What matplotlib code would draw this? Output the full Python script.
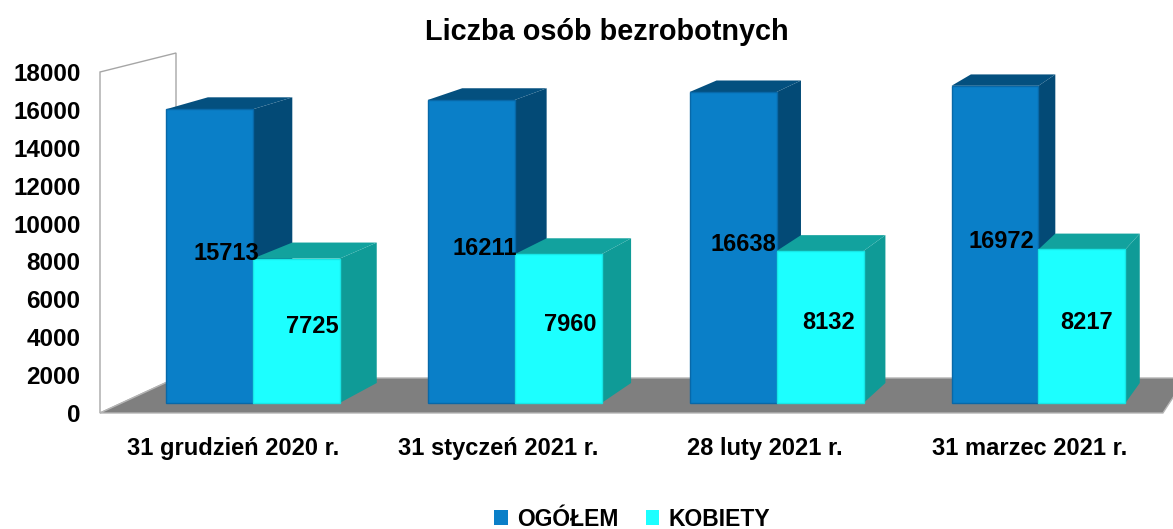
import matplotlib
matplotlib.use('Agg')
import matplotlib.pyplot as plt
from matplotlib.patches import Polygon, Patch

plt.rcParams['font.family'] = ['Liberation Sans', 'DejaVu Sans']
plt.rcParams['font.weight'] = 'bold'

# dane
categories = ['31 grudzień 2020 r.', '31 styczeń 2021 r.', '28 luty 2021 r.', '31 marzec 2021 r.']
ogolem = [15713, 16211, 16638, 16972]
kobiety = [7725, 7960, 8132, 8217]
series_names = ['OGÓŁEM', 'KOBIETY']
y_ticks = list(range(0, 18001, 2000))
y_max = 18000

# kolory (przód, bok, góra)
colors = {
    'OGÓŁEM': ('#0A7FC8', '#034A76', '#04507F'),
    'KOBIETY': ('#1CFFFF', '#0F9B97', '#12A29E'),
}
front_edge = {'OGÓŁEM': '#0868A8', 'KOBIETY': '#17E6E6'}

# perspektywa: przesunięcie tylnej płaszczyzny względem przedniej
SHIFT_X, SCALE_X = 0.286, 0.950
SHIFT_V, SCALE_V = 1848.0, 0.953
Z0, Z1 = 0.286, 0.857          # głębokość słupków
GAP = 0.168                    # odstęp od krawędzi kategorii


def proj(x, v, z):
    '''punkt 3D -> współrzędne przedniej płaszczyzny'''
    xb = (x + 0.5) * SCALE_X - 0.5 + SHIFT_X
    vb = SHIFT_V + SCALE_V * v
    return ((1 - z) * x + z * xb, (1 - z) * v + z * vb)


def poly(ax, pts, color, **kw):
    p = Polygon([proj(*q) for q in pts], closed=True, facecolor=color,
                clip_on=False, **kw)
    ax.add_patch(p)


fig = plt.figure(figsize=(11.73, 5.29), dpi=100)
W, H = 1173, 529
ax = fig.add_axes([100 / W, (H - 413) / H, 1073 / W, 373 / H])
ax.set_xlim(-0.5, 3.538)
ax.set_ylim(0, 19689)
for s in ax.spines.values():
    s.set_visible(False)

n = len(categories)
# ściana boczna
poly(ax, [(-0.5, 0, 0), (-0.5, y_max, 0), (-0.5, y_max, 1), (-0.5, 0, 1)],
     'white', edgecolor='#A6A6A6', linewidth=1.0, zorder=1)
# podłoga
poly(ax, [(-0.5, 0, 0), (n - 0.5, 0, 0), (n - 0.5, 0, 1), (-0.5, 0, 1)],
     '#7F7F7F', edgecolor='#B5B5B5', linewidth=1.0, zorder=2)

bw = (1 - 2 * GAP) / 2
for i in range(n):
    for j, (name, vals) in enumerate(zip(series_names, [ogolem, kobiety])):
        v = vals[i]
        x0 = i - 0.5 + GAP + j * bw
        x1 = x0 + bw
        front, side, top = colors[name]
        zo = 3 + i * 2 + j
        poly(ax, [(x1, 0, Z0), (x1, 0, Z1), (x1, v, Z1), (x1, v, Z0)], side,
             edgecolor='none', zorder=zo)
        poly(ax, [(x0, v, Z0), (x1, v, Z0), (x1, v, Z1), (x0, v, Z1)], top,
             edgecolor='none', zorder=zo)
        poly(ax, [(x0, 0, Z0), (x1, 0, Z0), (x1, v, Z0), (x0, v, Z0)], front,
             edgecolor=front_edge[name], linewidth=1.0, zorder=zo)
        tx, ty = proj((x0 + x1) / 2, v / 2, (Z0 + Z1) / 2)
        ax.annotate(str(v), (tx, ty), xytext=(-2, -3.5), textcoords='offset points',
                    ha='center', va='center', fontsize=17, fontweight='bold',
                    zorder=20)

ax.set_yticks(y_ticks)
ax.set_yticklabels([str(t) for t in y_ticks], fontsize=17.5, fontweight='bold')
ax.set_xticks(range(n))
ax.set_xticklabels(categories, fontsize=17, fontweight='bold')
ax.tick_params(axis='y', length=0, pad=14)
ax.tick_params(axis='x', length=0, pad=17)

fig.text(607 / W, 1 - 32 / H, 'Liczba osób bezrobotnych', ha='center',
         va='center', fontsize=20.8, fontweight='bold')

handles = [Patch(facecolor=colors[s][0]) for s in series_names]
fig.legend(handles, series_names, loc='center', bbox_to_anchor=(632 / W, 1 - 519 / H),
           ncol=2, frameon=False, fontsize=16.5, handlelength=0.6, handleheight=0.6,
           handletextpad=0.4, columnspacing=1.2, borderpad=0)

fig.savefig('out.png', dpi=100)
